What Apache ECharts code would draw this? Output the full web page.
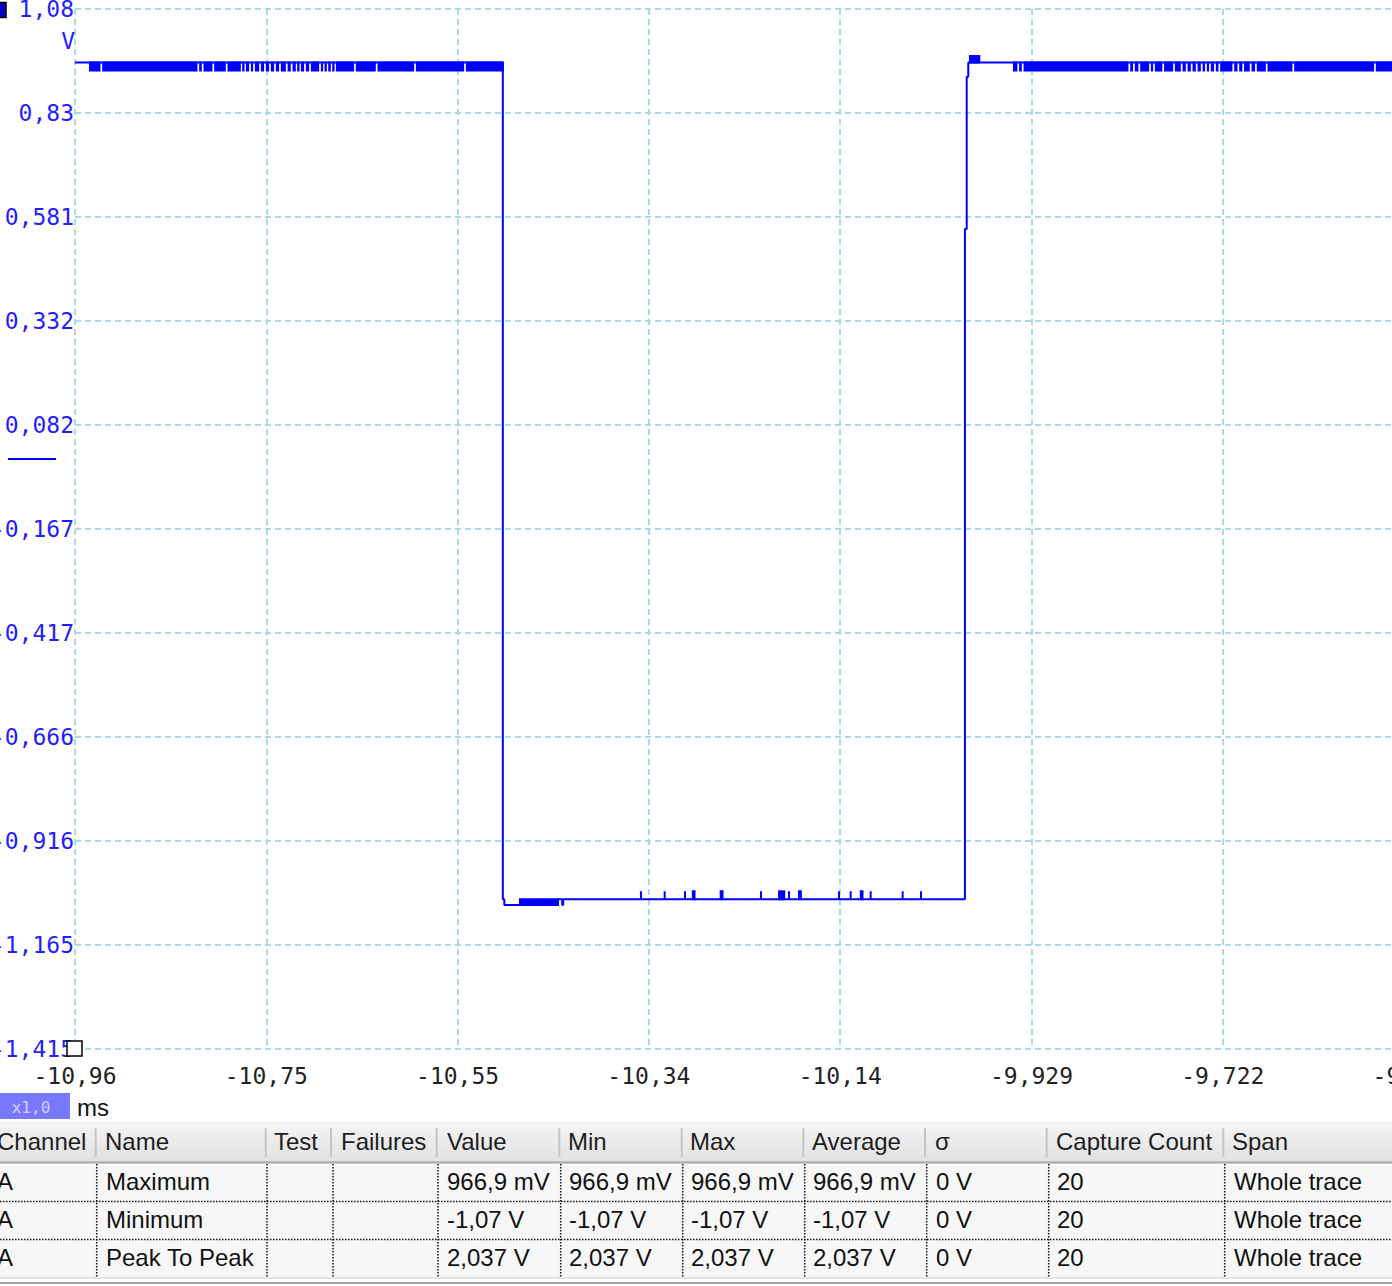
<!DOCTYPE html>
<html>
<head>
<meta charset="utf-8">
<script src="https://cdn.jsdelivr.net/npm/echarts@6/dist/echarts.min.js"></script>
<style>
html,body{margin:0;padding:0;overflow:hidden;background:#fff;width:1392px;height:1286px;}
#c{width:2000px;height:1286px;}
</style>
</head>
<body>
<div id="c"></div>
<script>
// ---------- axis tick labels ----------
const xTickLabels = ['-10,96','-10,75','-10,55','-10,34','-10,14','-9,929','-9,722','-9,516','-9,310','-9,103','-8,897'];
const yTickLabels = ['-1,415','-1,165','-0,916','-0,666','-0,417','-0,167','0,082','0,332','0,581','0,83','1,08'];
const timeRangeMs = [-10.9605, -8.8969];
const voltRange = [-1.4155, 1.0795];

// ---------- trace (time ms, volts) ----------
const traceStart = [
  [-10.9605, 0.951], [-10.4990, 0.951], [-10.4990, -1.056], [-10.4974, -1.056],
  [-10.4974, -1.070], [-10.4395, -1.070], [-10.4395, -1.056],
  [-10.4349, -1.056], [-10.4349, -1.070], [-10.4339, -1.070], [-10.4339, -1.056]
];
const lowLevel = -1.056;
const lowSpikeLevel = -1.037;
const lowSpikes = [
  -10.3500, -10.3244, -10.3025, -10.2205, -10.1903, -10.1364, -10.1238,
  -10.1022, -10.0677, -10.0479
];
const lowSpikeBlocks = [
  [-10.2940, -10.2922], [-10.2640, -10.2620], [-10.2010, -10.1955],
  [-10.1795, -10.1775], [-10.1128, -10.1110]
];
const traceEnd = [
  [-10.0005, -1.056], [-10.0005, 0.552], [-9.9986, 0.552], [-9.9986, 0.917],
  [-9.9969, 0.917], [-9.9969, 0.951], [-9.5000, 0.951]
];

// ---------- noise bands (fast toggling between two levels) ----------
const highBandLevels = [0.932, 0.951];
const leftBandRange = [-10.9443, -10.4990];
const leftBandGaps = [-10.9321, -10.8275, -10.8228, -10.8113, -10.7969, -10.7807, -10.7771, -10.7717,
  -10.7674, -10.7609, -10.7556, -10.7502, -10.7448, -10.7394, -10.7321, -10.7268, -10.7214, -10.7178,
  -10.7124, -10.7070, -10.6962, -10.6919, -10.6883, -10.6836, -10.6800, -10.6585, -10.6351, -10.5937, -10.5398];
const rightBandRange = [-9.9476, -9.5000];
const rightBandGaps = [-9.9430, -9.9382, -9.8232, -9.8182, -9.8124, -9.8009, -9.7966, -9.7866, -9.7750,
  -9.7667, -9.7613, -9.7559, -9.7505, -9.7451, -9.7405, -9.7362, -9.7308, -9.7261, -9.7110, -9.7056,
  -9.7003, -9.6923, -9.6866, -9.6750, -9.6463, -9.5582];
const lowBandRange = [-10.4805, -10.4395];
const lowBandLevels = [-1.070, -1.056];
const peakBandRange = [-9.9951, -9.9850];
const peakBandLevels = [0.951, 0.967];
const zeroLevel = 0;

// ---------- measurement table ----------
const tableHeaders = ['Channel','Name','Test','Failures','Value','Min','Max','Average','σ','Capture Count','Span'];
const tableRows = [
  ['A','Maximum','','','966,9 mV','966,9 mV','966,9 mV','966,9 mV','0 V','20','Whole trace'],
  ['A','Minimum','','','-1,07 V','-1,07 V','-1,07 V','-1,07 V','0 V','20','Whole trace'],
  ['A','Peak To Peak','','','2,037 V','2,037 V','2,037 V','2,037 V','0 V','20','Whole trace']
];

// ---------- build series data ----------
const traceData = traceStart.slice();
lowSpikes.forEach(t => {
  traceData.push([t, lowLevel], [t, lowSpikeLevel], [t, lowLevel]);
});
traceEnd.forEach(p => traceData.push(p));

const GAP_HALF = 0.002;
function bandIntervals(range, gaps) {
  const out = [];
  let s = range[0];
  gaps.forEach(g => { out.push([s, g - GAP_HALF]); s = g + GAP_HALF; });
  out.push([s, range[1]]);
  return out;
}
const bandData = [];
bandIntervals(leftBandRange, leftBandGaps).forEach(([a, b]) => bandData.push([a, b, highBandLevels[0], highBandLevels[1]]));
bandIntervals(rightBandRange, rightBandGaps).forEach(([a, b]) => bandData.push([a, b, highBandLevels[0], highBandLevels[1]]));
bandData.push([lowBandRange[0], lowBandRange[1], lowBandLevels[0], lowBandLevels[1]]);
bandData.push([peakBandRange[0], peakBandRange[1], peakBandLevels[0], peakBandLevels[1]]);
lowSpikeBlocks.forEach(([a, b]) => bandData.push([a, b, lowLevel, lowSpikeLevel]));

const TRACE = '#0000ff';
const GRID = '#add8e6';
const MONO = '"DejaVu Sans Mono", monospace';
const SANS = '"Liberation Sans", Arial, sans-serif';

const chart = echarts.init(document.getElementById('c'), null, {renderer: 'svg', width: 2000, height: 1286});

// ---------- graphic: table and decorations ----------
const g = [];
function txt(text, x, y, font, fill, align) {
  g.push({type: 'text', silent: true, z: 10, style: {text: text, x: x, y: y, font: font, fill: fill,
    textAlign: align || 'left', textVerticalAlign: 'middle', align: align || 'left', verticalAlign: 'middle'}});
}
function line(x1, y1, x2, y2, stroke, w, dash) {
  g.push({type: 'line', silent: true, z: 9, shape: {x1: x1, y1: y1, x2: x2, y2: y2},
    style: {stroke: stroke, lineWidth: w, lineDash: dash || null}});
}
// unit labels
txt('V', 75, 41, '23px ' + MONO, '#1f1fff', 'right');
g.push({type: 'rect', silent: true, z: 10, shape: {x: -10, y: 2.5, width: 16, height: 15},
  style: {fill: '#0000c8', stroke: '#000', lineWidth: 1.5}});
g.push({type: 'rect', silent: true, z: 10, shape: {x: 67, y: 1041, width: 15, height: 15},
  style: {fill: '#fff', stroke: '#000', lineWidth: 1.5}});
g.push({type: 'rect', silent: true, z: 10, shape: {x: 0, y: 1093, width: 70, height: 26},
  style: {fill: '#7878ff'}});
txt('x1,0', 31, 1107, '16px ' + MONO, '#d0d0ff', 'center');
txt('ms', 77, 1107, '24px ' + SANS, '#111', 'left');

// table background
g.push({type: 'rect', silent: true, z: 8, shape: {x: 0, y: 1121, width: 2000, height: 41},
  style: {fill: new echarts.graphic.LinearGradient(0, 0, 0, 1, [{offset: 0, color: '#f6f6f6'}, {offset: 1, color: '#e0e0e0'}])}});
g.push({type: 'rect', silent: true, z: 8, shape: {x: 0, y: 1163, width: 2000, height: 114},
  style: {fill: '#f7f7f7'}});
line(0, 1162.5, 2000, 1162.5, '#a6a6a6', 2);
line(0, 1278, 2000, 1278, '#e2e2e2', 2);
line(0, 1283, 2000, 1283, '#a0a0a0', 2);
const headSep = [95.7, 265.7, 331, 436.7, 559.3, 681.7, 803.3, 925, 1046.7, 1223.3];
headSep.forEach(x => line(x, 1128, x, 1157, '#c4c4c4', 2));
const rowSep = [96.7, 267, 333, 438, 560.7, 682.7, 804.7, 926.7, 1048.7, 1224.7];
rowSep.forEach(x => line(x, 1164, x, 1277, '#111', 1.5, [1.5, 1.5]));
line(0, 1201.5, 2000, 1201.5, '#111', 1.5, [1.5, 1.5]);
line(0, 1239.5, 2000, 1239.5, '#111', 1.5, [1.5, 1.5]);
const colX = [-3, 105, 274, 341, 447, 568, 690, 812, 935, 1056, 1232];
const rowColX = [-3, 106, 275, 342, 447, 569, 691, 813, 936, 1057, 1234];
tableHeaders.forEach((h, i) => txt(h, colX[i], 1141, '24px ' + SANS, '#1e1e1e', 'left'));
const rowY = [1181, 1219, 1257];
tableRows.forEach((r, ri) => r.forEach((c, ci) => { if (c) txt(c, rowColX[ci], rowY[ri], '24px ' + SANS, '#111', 'left'); }));

const option = {
  animation: false,
  backgroundColor: '#fff',
  grid: {left: 75, top: 9, width: 1913, height: 1040, containLabel: false, outerBoundsMode: 'none'},
  xAxis: [
    {type: 'value', min: 0, max: 10, interval: 1,
     axisLine: {show: false}, axisTick: {show: false},
     axisLabel: {show: true, margin: 15, color: '#222', fontFamily: MONO, fontSize: 23,
       formatter: v => xTickLabels[Math.round(v)]},
     splitLine: {show: true, lineStyle: {color: GRID, width: 2, type: [6, 4]}}},
    {type: 'value', min: timeRangeMs[0], max: timeRangeMs[1], show: false}
  ],
  yAxis: [
    {type: 'value', min: 0, max: 10, interval: 1,
     axisLine: {show: false}, axisTick: {show: false},
     axisLabel: {show: true, margin: 1, color: '#1f1fff', fontFamily: MONO, fontSize: 23,
       formatter: v => yTickLabels[Math.round(v)]},
     splitLine: {show: true, lineStyle: {color: GRID, width: 2, type: [6, 4]}}},
    {type: 'value', min: voltRange[0], max: voltRange[1], show: false}
  ],
  series: [
    {type: 'line', xAxisIndex: 1, yAxisIndex: 1, data: traceData, showSymbol: false, symbol: 'none',
     lineStyle: {color: TRACE, width: 2}, itemStyle: {color: TRACE}, z: 5, clip: true},
    {type: 'custom', xAxisIndex: 1, yAxisIndex: 1, data: bandData, z: 5, clip: true,
     encode: {x: [0, 1], y: [2, 3]},
     renderItem: function (params, api) {
       const p0 = api.coord([api.value(0), Math.max(api.value(2), api.value(3))]);
       const p1 = api.coord([api.value(1), Math.min(api.value(2), api.value(3))]);
       return {type: 'rect', shape: {x: p0[0], y: p0[1], width: p1[0] - p0[0], height: p1[1] - p0[1]},
         style: {fill: TRACE, stroke: TRACE, lineWidth: 2}};
     }}
  ],
  graphic: g
};
chart.setOption(option);

// zero-level marker of channel A, placed through the volt axis
const y0 = chart.convertToPixel({yAxisIndex: 1}, zeroLevel);
g.push({type: 'line', silent: true, z: 10, shape: {x1: 8, y1: y0, x2: 56, y2: y0}, style: {stroke: TRACE, lineWidth: 2}});
chart.setOption({graphic: g});
</script>
</body>
</html>
